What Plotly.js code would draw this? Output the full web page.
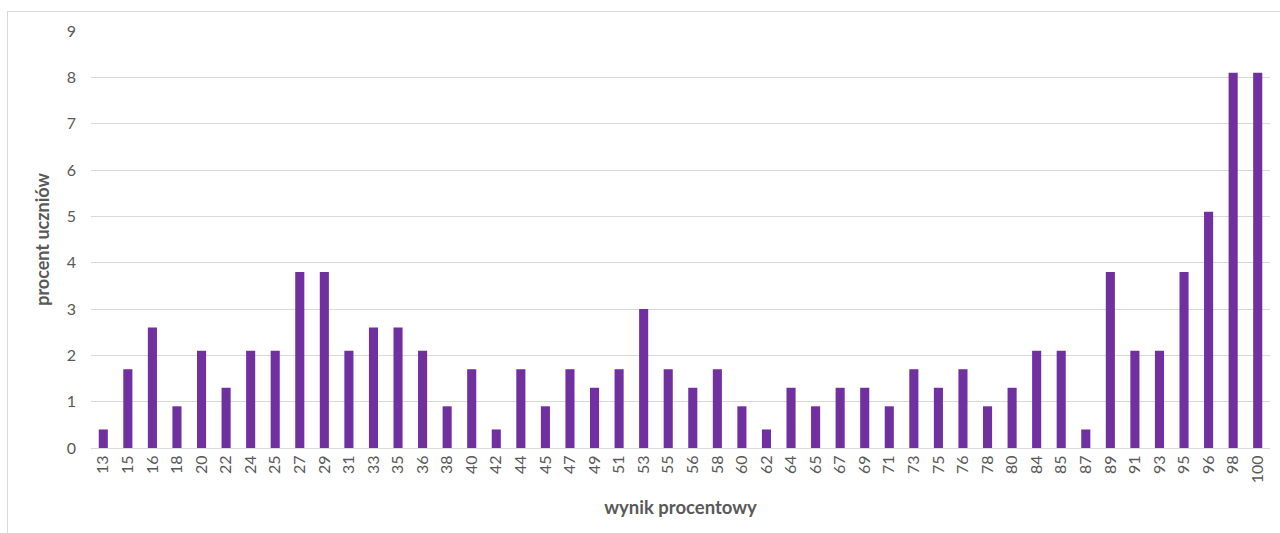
<!DOCTYPE html>
<html>
<head>
<meta charset="utf-8">
<script src="https://cdn.plot.ly/plotly-3.0.1.min.js"></script>
<style>
html,body{margin:0;padding:0;background:#fff;}
#chart{width:1280px;height:533px;position:relative;}
#frame{position:absolute;left:7px;top:11px;width:1300px;height:560px;border:1px solid #d9d9d9;pointer-events:none;}
</style>
</head>
<body>
<div id="chart"></div>
<div id="frame"></div>
<script>
const categories = ["13","15","16","18","20","22","24","25","27","29","31","33","35","36","38","40","42","44","45","47","49","51","53","55","56","58","60","62","64","65","67","69","71","73","75","76","78","80","84","85","87","89","91","93","95","96","98","100"];
const values = [0.4,1.7,2.6,0.9,2.1,1.3,2.1,2.1,3.8,3.8,2.1,2.6,2.6,2.1,0.9,1.7,0.4,1.7,0.9,1.7,1.3,1.7,3.0,1.7,1.3,1.7,0.9,0.4,1.3,0.9,1.3,1.3,0.9,1.7,1.3,1.7,0.9,1.3,2.1,2.1,0.4,3.8,2.1,2.1,3.8,5.1,8.1,8.1];
const yTicks = [0,1,2,3,4,5,6,7,8,9];
const xTitle = "wynik procentowy";
const yTitle = "procent uczniów";

const fontFam = "Lato, 'Open Sans', sans-serif";
Plotly.newPlot('chart', [{
  type: 'bar',
  x: categories,
  y: values,
  marker: {color: '#7030A0', line: {width: 0}},
  hoverinfo: 'x+y'
}], {
  width: 1280, height: 533,
  margin: {l: 91, r: 10, t: 31, b: 85},
  paper_bgcolor: '#fff', plot_bgcolor: '#fff',
  bargap: 0.63,
  showlegend: false,
  font: {family: fontFam, color: '#595959', size: 16},
  xaxis: {
    type: 'category',
    tickangle: -90,
    tickfont: {size: 16, color: '#595959'},
    showgrid: false,
    showline: true, linecolor: '#d9d9d9', linewidth: 1,
    ticks: '',
    automargin: false,
    title: {text: xTitle, font: {size: 18.5, color: '#595959', weight: 'bold'}, standoff: 18}
  },
  yaxis: {
    range: [0, 9],
    tickvals: yTicks,
    tickfont: {size: 16, color: '#595959'},
    showgrid: true, gridcolor: '#d9d9d9', gridwidth: 1,
    zeroline: false,
    showline: false,
    ticks: '',
    ticklabelstandoff: 14,
    automargin: false,
    title: {text: yTitle, font: {size: 18, color: '#595959', weight: 'bold'}, standoff: 12}
  }
}, {displayModeBar: false, staticPlot: true});
</script>
</body>
</html>
